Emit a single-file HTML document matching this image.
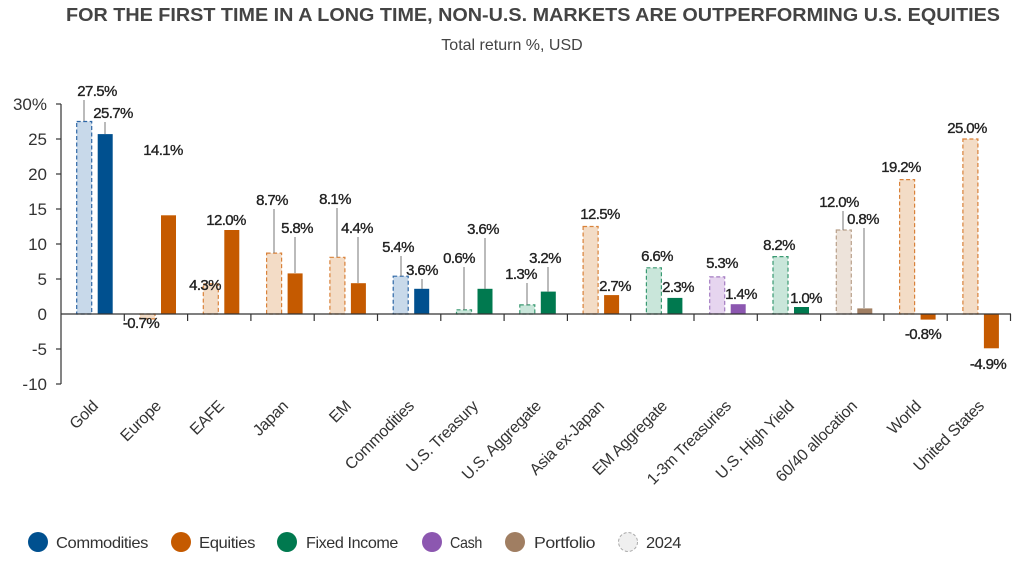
<!DOCTYPE html>
<html><head><meta charset="utf-8"><style>
body{margin:0;background:#fff;}
svg{display:block;font-family:"Liberation Sans",sans-serif;}
.v{font-size:15px;fill:#222;text-anchor:middle;letter-spacing:-0.6px;stroke:#222;stroke-width:0.35}
.y{font-size:17px;fill:#333;text-anchor:end}
.x{font-size:16px;fill:#333;text-anchor:end;letter-spacing:-0.3px}
.lg{font-size:16px;fill:#333;letter-spacing:-0.4px}
.ld{stroke:#777;stroke-width:1}
</style></head><body>
<svg width="1024" height="564" viewBox="0 0 1024 564">
<text x="66" y="21" font-size="18" font-weight="bold" fill="#444" textLength="934" lengthAdjust="spacingAndGlyphs">FOR THE FIRST TIME IN A LONG TIME, NON-U.S. MARKETS ARE OUTPERFORMING U.S. EQUITIES</text>
<text x="512" y="50" text-anchor="middle" font-size="16" fill="#444">Total return %, USD</text>

<g>
<text class="y" x="47" y="110">30%</text>
<text class="y" x="47" y="145">25</text>
<text class="y" x="47" y="180">20</text>
<text class="y" x="47" y="215">15</text>
<text class="y" x="47" y="250">10</text>
<text class="y" x="47" y="285">5</text>
<text class="y" x="47" y="320">0</text>
<text class="y" x="47" y="355">-5</text>
<text class="y" x="47" y="390">-10</text>
</g>
<g stroke="#333" stroke-width="1.2">
<line x1="61" y1="104" x2="61" y2="384"/>
<line x1="56" y1="104" x2="61" y2="104"/><line x1="56" y1="139" x2="61" y2="139"/><line x1="56" y1="174" x2="61" y2="174"/><line x1="56" y1="209" x2="61" y2="209"/><line x1="56" y1="244" x2="61" y2="244"/><line x1="56" y1="279" x2="61" y2="279"/><line x1="56" y1="349" x2="61" y2="349"/><line x1="56" y1="384" x2="61" y2="384"/>
</g>

<g stroke-width="1.2" stroke-dasharray="4,2.5">
<rect x="76.7" y="121.5" width="15" height="192.5" fill="#c8d9ea" stroke="#2e67a6"/>
<rect x="140" y="314" width="15" height="4.9" fill="#f3dcc6" stroke="#d9823a"/>
<rect x="203.3" y="283.9" width="15" height="30.1" fill="#f3dcc6" stroke="#d9823a"/>
<rect x="266.6" y="253.1" width="15" height="60.9" fill="#f3dcc6" stroke="#d9823a"/>
<rect x="329.9" y="257.3" width="15" height="56.7" fill="#f3dcc6" stroke="#d9823a"/>
<rect x="393.2" y="276.2" width="15" height="37.8" fill="#c8d9ea" stroke="#2e67a6"/>
<rect x="456.5" y="309.8" width="15" height="4.2" fill="#c9e6da" stroke="#3a9a72"/>
<rect x="519.8" y="304.9" width="15" height="9.1" fill="#c9e6da" stroke="#3a9a72"/>
<rect x="583.1" y="226.5" width="15" height="87.5" fill="#f3dcc6" stroke="#d9823a"/>
<rect x="646.4" y="267.8" width="15" height="46.2" fill="#c9e6da" stroke="#3a9a72"/>
<rect x="709.7" y="276.9" width="15" height="37.1" fill="#e6d5ef" stroke="#a47cc2"/>
<rect x="773" y="256.6" width="15" height="57.4" fill="#c9e6da" stroke="#3a9a72"/>
<rect x="836.3" y="230" width="15" height="84" fill="#ede3da" stroke="#b9a08a"/>
<rect x="899.6" y="179.6" width="15" height="134.4" fill="#f3dcc6" stroke="#d9823a"/>
<rect x="962.9" y="139" width="15" height="175" fill="#f3dcc6" stroke="#d9823a"/>
</g>
<g>
<rect x="97.7" y="134.1" width="15" height="179.9" fill="#00508f"/>
<rect x="161" y="215.3" width="15" height="98.7" fill="#c55a00"/>
<rect x="224.3" y="230" width="15" height="84" fill="#c55a00"/>
<rect x="287.6" y="273.4" width="15" height="40.6" fill="#c55a00"/>
<rect x="350.9" y="283.2" width="15" height="30.8" fill="#c55a00"/>
<rect x="414.2" y="288.8" width="15" height="25.2" fill="#00508f"/>
<rect x="477.5" y="288.8" width="15" height="25.2" fill="#00794f"/>
<rect x="540.8" y="291.6" width="15" height="22.4" fill="#00794f"/>
<rect x="604.1" y="295.1" width="15" height="18.9" fill="#c55a00"/>
<rect x="667.4" y="297.9" width="15" height="16.1" fill="#00794f"/>
<rect x="730.7" y="304.2" width="15" height="9.8" fill="#8c57b0"/>
<rect x="794" y="307" width="15" height="7" fill="#00794f"/>
<rect x="857.3" y="308.4" width="15" height="5.6" fill="#a07e62"/>
<rect x="920.6" y="314" width="15" height="5.6" fill="#c55a00"/>
<rect x="983.9" y="314" width="15" height="34.3" fill="#c55a00"/>
</g>

<g stroke="#333" stroke-width="1.2">
<line x1="61" y1="314" x2="1011" y2="314"/>
<line x1="124.3" y1="314" x2="124.3" y2="321"/><line x1="187.6" y1="314" x2="187.6" y2="321"/><line x1="250.9" y1="314" x2="250.9" y2="321"/><line x1="314.2" y1="314" x2="314.2" y2="321"/><line x1="377.5" y1="314" x2="377.5" y2="321"/><line x1="440.8" y1="314" x2="440.8" y2="321"/><line x1="504.1" y1="314" x2="504.1" y2="321"/><line x1="567.4" y1="314" x2="567.4" y2="321"/><line x1="630.7" y1="314" x2="630.7" y2="321"/><line x1="694" y1="314" x2="694" y2="321"/><line x1="757.3" y1="314" x2="757.3" y2="321"/><line x1="820.6" y1="314" x2="820.6" y2="321"/><line x1="883.9" y1="314" x2="883.9" y2="321"/><line x1="947.2" y1="314" x2="947.2" y2="321"/><line x1="1010.5" y1="314" x2="1010.5" y2="321"/>
</g>

<g class="ld">
<line x1="84" y1="100" x2="84" y2="121"/>
<line x1="105" y1="122" x2="105" y2="134"/>
<line x1="274" y1="209" x2="274" y2="253"/>
<line x1="295" y1="237" x2="295" y2="273"/>
<line x1="337" y1="208" x2="337" y2="257"/>
<line x1="358" y1="237" x2="358" y2="283"/>
<line x1="401" y1="256" x2="401" y2="276"/>
<line x1="422" y1="279" x2="422" y2="289"/>
<line x1="464" y1="267" x2="464" y2="310"/>
<line x1="485" y1="238" x2="485" y2="289"/>
<line x1="527" y1="283" x2="527" y2="305"/>
<line x1="548" y1="267" x2="548" y2="292"/>
<line x1="843" y1="211" x2="843" y2="230"/>
<line x1="864" y1="228" x2="864" y2="308"/>
</g>

<g class="v">
<text x="97" y="96">27.5%</text><text x="113" y="118">25.7%</text>
<text x="141" y="328">-0.7%</text><text x="163" y="155">14.1%</text>
<text x="205" y="290">4.3%</text><text x="226" y="225">12.0%</text>
<text x="272" y="205">8.7%</text><text x="297" y="233">5.8%</text>
<text x="335" y="204">8.1%</text><text x="357" y="233">4.4%</text>
<text x="398" y="252">5.4%</text><text x="422" y="275">3.6%</text>
<text x="459" y="263">0.6%</text><text x="483" y="234">3.6%</text>
<text x="521" y="279">1.3%</text><text x="545" y="263">3.2%</text>
<text x="600" y="219">12.5%</text><text x="615" y="291">2.7%</text>
<text x="657" y="261">6.6%</text><text x="678" y="292">2.3%</text>
<text x="722" y="268">5.3%</text><text x="741" y="299">1.4%</text>
<text x="779" y="250">8.2%</text><text x="806" y="303">1.0%</text>
<text x="839" y="207">12.0%</text><text x="863" y="224">0.8%</text>
<text x="901" y="172">19.2%</text><text x="923" y="339">-0.8%</text>
<text x="967" y="133">25.0%</text><text x="988" y="369">-4.9%</text>
</g>

<g class="x">
<text transform="translate(99,407) rotate(-45)">Gold</text>
<text transform="translate(162,407) rotate(-45)">Europe</text>
<text transform="translate(225,407) rotate(-45)">EAFE</text>
<text transform="translate(289,407) rotate(-45)">Japan</text>
<text transform="translate(352,407) rotate(-45)">EM</text>
<text transform="translate(415,407) rotate(-45)">Commodities</text>
<text transform="translate(479,407) rotate(-45)">U.S. Treasury</text>
<text transform="translate(542,407) rotate(-45)">U.S. Aggregate</text>
<text transform="translate(605,407) rotate(-45)">Asia ex-Japan</text>
<text transform="translate(668,407) rotate(-45)">EM Aggregate</text>
<text transform="translate(732,407) rotate(-45)">1-3m Treasuries</text>
<text transform="translate(795,407) rotate(-45)">U.S. High Yield</text>
<text transform="translate(858,407) rotate(-45)">60/40 allocation</text>
<text transform="translate(922,407) rotate(-45)">World</text>
<text transform="translate(985,407) rotate(-45)">United States</text>
</g>

<g>
<circle cx="38" cy="542" r="10" fill="#00508f"/><text class="lg" x="56" y="548" textLength="92" lengthAdjust="spacingAndGlyphs">Commodities</text>
<circle cx="181" cy="542" r="10" fill="#c55a00"/><text class="lg" x="199" y="548" textLength="56" lengthAdjust="spacingAndGlyphs">Equities</text>
<circle cx="287" cy="542" r="10" fill="#00794f"/><text class="lg" x="306" y="548" textLength="92" lengthAdjust="spacingAndGlyphs">Fixed Income</text>
<circle cx="432" cy="542" r="10" fill="#8c57b0"/><text class="lg" x="450" y="548" textLength="32" lengthAdjust="spacingAndGlyphs">Cash</text>
<circle cx="515" cy="542" r="10" fill="#a07e62"/><text class="lg" x="534" y="548" textLength="61" lengthAdjust="spacingAndGlyphs">Portfolio</text>
<circle cx="628" cy="542" r="9.5" fill="#efefef" stroke="#aaa" stroke-width="1" stroke-dasharray="3,2"/><text class="lg" x="646" y="548" textLength="35" lengthAdjust="spacingAndGlyphs">2024</text>
</g>
</svg>
</body></html>
